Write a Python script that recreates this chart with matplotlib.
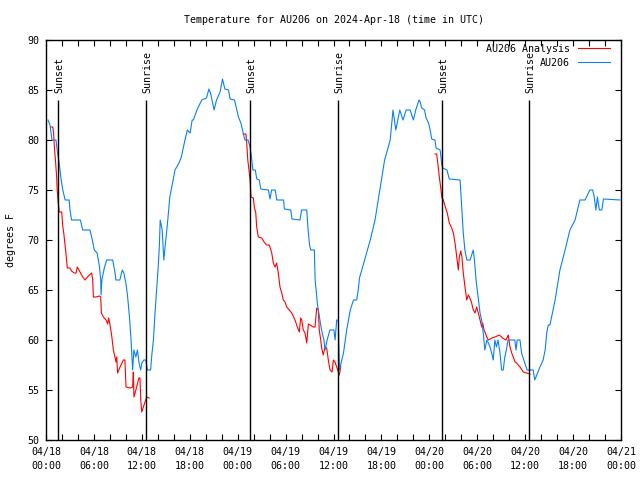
from __future__ import annotations

import matplotlib

matplotlib.use("Agg")
import matplotlib.dates as mdates
import matplotlib.pyplot as plt
import numpy as np
from matplotlib.ticker import FuncFormatter, MultipleLocator

plt.rcParams["font.family"] = ["DejaVu Sans Mono"]

START = np.datetime64("2024-04-18T00:00")

# station observations: hours since 04/18 00:00 UTC, degrees F
obs_hours = [
    0.25, 0.5, 0.75, 1.25, 1.4, 1.65, 1.9, 2.1, 2.4, 2.9, 3.0, 3.2, 4.3, 4.6,
    5.5, 5.8, 6.05, 6.4, 6.7, 6.85, 6.9, 7.0, 7.3, 7.6, 8.35, 8.65, 8.75,
    9.25, 9.55, 9.75, 10.0, 10.2, 10.45, 10.65, 10.85, 11.0, 11.25, 11.45,
    11.65, 11.85, 12.0, 12.25, 12.5, 12.7, 13.1, 13.25, 13.45, 13.65, 13.85,
    14.05, 14.2, 14.3, 14.55, 14.75, 15.0, 15.25, 15.5, 15.85, 16.15, 16.65,
    16.95, 17.4, 17.7, 18.05, 18.3, 18.45, 18.9, 19.5, 20.1, 20.4, 20.6,
    21.05, 21.35, 21.8, 22.1, 22.4, 22.85, 23.05, 23.6, 23.9, 24.1, 24.4,
    24.7, 24.9, 25.3, 25.55, 25.7, 25.9, 26.2, 26.4, 26.7, 26.9, 27.85,
    28.05, 28.25, 28.7, 28.9, 29.75, 29.85, 30.65, 30.8, 31.8, 32.0, 32.65,
    32.8, 33.0, 33.15, 33.6, 33.7, 33.9, 34.0, 34.3, 34.5, 34.8, 34.95,
    35.2, 35.55, 36.05, 36.2, 36.4, 36.6, 36.75, 36.95, 37.25, 37.65, 38.1,
    38.5, 38.9, 39.1, 39.25, 39.9, 40.6, 41.2, 41.8, 42.4, 43.1, 43.45,
    43.8, 44.3, 44.7, 45.1, 45.6, 46.0, 46.3, 46.7, 46.85, 47.05, 47.4,
    47.6, 47.9, 48.1, 48.3, 48.7, 48.85, 49.35, 49.5, 49.55, 49.7, 50.2,
    50.5, 51.85, 52.05, 52.25, 52.45, 52.7, 53.1, 53.5, 53.65, 53.85,
    54.15, 54.35, 54.55, 54.75, 54.95, 55.2, 55.4, 55.6, 55.8, 56.0, 56.2,
    56.4, 56.6, 56.85, 57.05, 57.25, 57.45, 57.65, 57.85, 58.7, 58.85,
    59.0, 59.35, 59.55, 59.95, 60.25, 61.0, 61.2, 61.45, 61.85, 62.25,
    62.5, 62.7, 62.9, 63.1, 63.75, 64.35, 65.0, 65.6, 66.25, 66.85, 67.5,
    68.1, 68.45, 68.6, 68.75, 68.85, 69.05, 69.15, 69.3, 69.6, 69.8, 71.9,
]
obs_temps = [
    82, 81.5, 80, 80, 79, 77.7, 76, 75, 74, 74, 73, 72, 72, 71,
    71, 70, 69, 68.7, 67.3, 66, 64.5, 66, 67.2, 68, 68, 66.7, 66,
    66, 67, 66.7, 65.7, 64.5, 62.3, 60, 57, 59, 58.3, 59,
    57.7, 57, 57.7, 58, 58, 57, 57, 58.5, 60, 62.7, 65,
    67.3, 69.5, 72, 71, 68, 70, 72, 74.3, 75.7, 77, 77.7,
    78.3, 80, 81, 80.7, 82, 82, 83, 84, 84.2, 85.1, 84.7,
    83, 84, 84.8, 86.1, 85.1, 85, 84.1, 84, 83, 82.3, 81.7,
    80.7, 80, 80, 79.3, 78.5, 77, 77, 76.1, 76, 75.1, 75,
    74.1, 75, 75, 74, 74, 73.1, 73, 72.1, 72, 73, 73,
    71.2, 69.5, 69, 69, 66, 64.3, 63.5, 62, 61, 60, 59,
    60, 61, 61, 60, 62, 62, 57, 57.7, 58.7, 61, 63,
    64, 64, 65, 66.2, 68, 70, 72, 75, 78, 80, 83,
    81, 83, 82, 83, 83, 82, 83, 84, 83.8, 83.2, 83,
    82.2, 81.7, 81, 80.1, 80, 79.2, 79, 78, 77.5, 77.2, 77,
    76.1, 76, 73.3, 70.7, 69, 68, 68, 69, 68, 66,
    64, 62.7, 62, 60.7, 59, 60, 59.7, 59.3, 58.7, 58, 60,
    59.3, 60, 58.7, 57, 57, 58.3, 59, 60, 60, 59,
    60, 60, 58.7, 57.7, 57, 57, 56, 56.5, 57.3, 58,
    59, 60.7, 61.5, 61.5, 64, 67, 69, 71, 72, 74, 74,
    75, 75, 74.5, 73.7, 73, 74.3, 73.7, 73, 73, 74.1, 74,
]

# analysis nights (three separate segments)
ana_hours_1 = [
    0.6, 0.85, 0.95, 1.05, 1.2, 1.33, 1.4, 1.54, 1.66, 1.96, 2.09, 2.25,
    2.38, 2.5, 2.67, 3.0, 3.2, 3.54, 3.76, 3.92, 4.26, 4.6, 4.88, 5.3,
    5.72, 5.85, 5.93, 6.26, 6.68, 6.85, 6.93, 7.18, 7.51, 7.72, 7.85,
    8.01, 8.22, 8.43, 8.64, 8.76, 8.85, 8.97, 9.26, 9.68, 9.89, 10.02,
    10.52, 10.85, 10.93, 11.02, 11.35, 11.64, 11.77, 11.86, 11.98, 12.4,
    12.6, 12.94,
]
ana_temps_1 = [
    81.3, 81.3, 80.7, 79.3, 77.8, 76.3, 75, 73.7, 72.8, 72.8, 71.5, 70.5,
    69.5, 68.6, 67.2, 67.2, 66.9, 66.7, 66.7, 67.3, 66.8, 66.3, 66, 66.4,
    66.7, 66, 64.3, 64.3, 64.4, 64.3, 62.7, 62.3, 62, 61.6, 62.2,
    61.5, 60.5, 59, 58.3, 57.8, 58.3, 56.7, 57.3, 58, 58, 55.3,
    55.2, 55.3, 56.8, 54.3, 55.3, 56.2, 56.2, 54, 52.8, 53.8,
    54.3, 54.2,
]
ana_hours_2 = [
    24.7, 25.04, 25.13, 25.26, 25.42, 25.55, 25.67, 25.96, 26.08, 26.26,
    26.38, 26.58, 27.01, 27.3, 27.64, 27.96, 28.26, 28.46, 28.68, 28.89,
    29.09, 29.3, 29.51, 29.71, 29.93, 30.14, 30.47, 30.77, 31.18, 31.47,
    31.72, 31.89, 32.02, 32.22, 32.43, 32.65, 32.85, 33.47, 33.68, 33.9,
    34.1, 34.22, 34.4, 34.52, 34.72, 34.94, 35.15, 35.35, 35.56, 35.81,
    35.98, 36.19, 36.4, 36.6, 36.73, 36.9,
]
ana_temps_2 = [
    80.6, 80.6, 79.7, 78, 77, 76, 74.3, 74.2, 73.3, 72.7,
    71.3, 70.3, 70.2, 69.8, 69.5, 69.5, 68.7, 67.7, 67.3, 67.7,
    66.7, 65.3, 64.7, 64, 63.8, 63.3, 63, 62.7, 62, 61.3,
    60.8, 62.2, 62, 61, 60.7, 59.7, 61.6, 61.3, 61.3, 63.2,
    63, 61, 60, 59.2, 58.5, 59.3, 59.2, 58, 57, 56.8,
    58, 57.8, 57.3, 56.8, 56.5, 57.3,
]
ana_hours_3 = [
    48.71, 48.92, 49.12, 49.25, 49.42, 49.59, 49.75, 50.0, 50.25, 50.5,
    50.8, 51.0, 51.21, 51.43, 51.63, 51.75, 51.93, 52.09, 52.25, 52.46,
    52.68, 52.88, 53.09, 53.3, 53.5, 53.72, 53.93, 54.13, 54.35, 54.56,
    54.68, 54.85, 55.01, 55.18, 55.38, 55.81, 56.22, 56.76, 57.19, 57.6,
    57.89, 58.1, 58.31, 58.73, 58.94, 59.35, 59.77, 60.19, 60.61,
]
ana_temps_3 = [
    78.6, 78.6, 77.3, 76.3, 75.3, 74.2, 74, 73.3, 72.7, 71.7,
    71.2, 70.7, 69.7, 68.3, 67, 68.3, 68.9, 68.3, 66.7, 65.3,
    64, 64.5, 64.2, 63.7, 63, 62.7, 63.3, 62.7, 62, 61.3,
    61.7, 61, 60.7, 60.3, 60, 60.2, 60.3, 60.5, 60.2, 60,
    60.5, 59.3, 58.7, 57.8, 57.7, 57.3, 56.8, 56.7, 56.6,
]

sun_labels = ["Sunset", "Sunrise", "Sunset", "Sunrise", "Sunset", "Sunrise"]
sun_hours = [1.55, 12.56, 25.6, 36.62, 49.63, 60.52]


def to_time(hours):
    minutes = np.round(np.asarray(hours, dtype=float) * 60).astype(int)
    return START + minutes.astype("timedelta64[m]")


def main() -> int:
    fig = plt.figure(figsize=(6.4, 4.8), dpi=100)
    ax = fig.add_axes((46 / 640, 40 / 480, 575 / 640, 400 / 480))

    red = "#ff0000"
    blue = "#0a80f2"
    first = True
    for hrs, tmp in (
        (ana_hours_1, ana_temps_1),
        (ana_hours_2, ana_temps_2),
        (ana_hours_3, ana_temps_3),
    ):
        ax.plot(
            to_time(hrs),
            tmp,
            color=red,
            linewidth=0.8,
            label="AU206 Analysis" if first else None,
        )
        first = False
    ax.plot(to_time(obs_hours), obs_temps, color=blue, linewidth=0.8, label="AU206")

    for label, hour in zip(sun_labels, sun_hours):
        t = to_time([hour])[0]
        ax.vlines(t, 50, 84, color="black", linewidth=1.0)
        ax.text(
            t + np.timedelta64(10, "m"),
            84.7,
            label,
            rotation=90,
            ha="center",
            va="bottom",
            fontsize=7.2,
        )

    ax.set_xlim(to_time([0])[0], to_time([72])[0])
    ax.set_ylim(50, 90)
    ax.yaxis.set_major_locator(MultipleLocator(5))
    ax.xaxis.set_major_locator(mdates.HourLocator(byhour=range(0, 24, 2)))

    def fmt(value, pos):
        dt = mdates.num2date(value)
        if dt.hour % 6:
            return ""
        return dt.strftime("%m/%d\n%H:%M")

    ax.xaxis.set_major_formatter(FuncFormatter(fmt))
    ax.tick_params(
        direction="in",
        length=4,
        width=0.8,
        top=True,
        right=True,
        labelsize=7.2,
        pad=5,
    )
    for lab in ax.get_xticklabels():
        lab.set_linespacing(1.5)
    for spine in ax.spines.values():
        spine.set_linewidth(1.0)

    ax.set_ylabel("degrees F", fontsize=7.2, labelpad=8)
    ax.set_title(
        "Temperature for AU206 on 2024-Apr-18 (time in UTC)",
        fontsize=7.2,
        pad=12,
    )
    ax.legend(
        loc="upper right",
        bbox_to_anchor=(0.988, 1.0),
        frameon=False,
        markerfirst=False,
        fontsize=7.2,
        handlelength=3.2,
        handletextpad=0.8,
        labelspacing=0.4,
        borderaxespad=0.0,
    )

    fig.savefig("out.png", dpi=100)
    plt.close(fig)
    return 0


if __name__ == "__main__":
    raise SystemExit(main())
